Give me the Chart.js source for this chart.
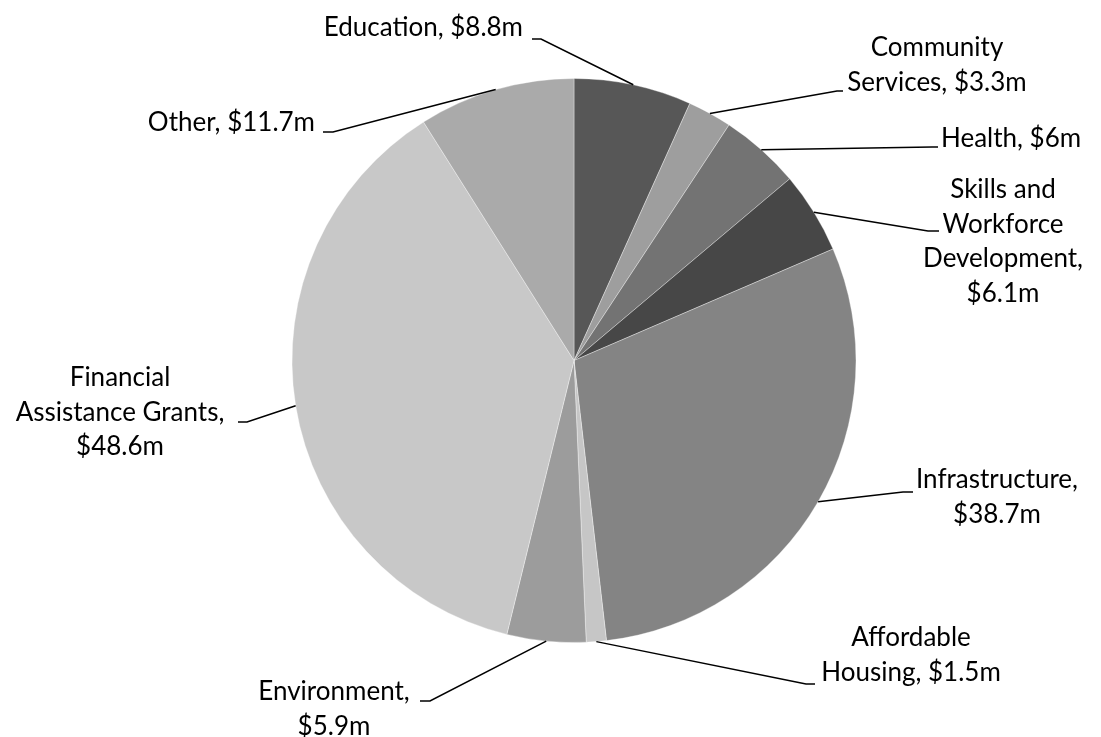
<!DOCTYPE html>
<html>
<head>
<meta charset="utf-8">
<script src="https://cdn.jsdelivr.net/npm/chart.js@4.4.1/dist/chart.umd.min.js"></script>
<style>
    html, body { margin: 0; padding: 0; background: #fff; }
    #wrap { width: 1101px; height: 737px; }
</style>
</head>
<body>
<div id="wrap"><canvas id="pieChart" width="1101" height="737"></canvas></div>
<script>
// Data (values in $m)
const categories = ['Education', 'Community Services', 'Health', 'Skills and Workforce Development',
    'Infrastructure', 'Affordable Housing', 'Environment', 'Financial Assistance Grants', 'Other'];
const values = [8.8, 3.3, 6, 6.1, 38.7, 1.5, 5.9, 48.6, 11.7];
// words per label line
const lineBreaks = [[2], [1, 2], [2], [2, 1, 1, 1], [1, 1], [1, 2], [1, 1], [1, 2, 1], [2]];

const sliceColors = ['#575757', '#9e9e9e', '#737373', '#474747', '#848484', '#c6c6c6', '#9c9c9c', '#c8c8c8', '#aaaaaa'];

// label placement: text position + elbow [x near pie, x near text, y]
const labelLayout = [
    { x: 523, y: 28, align: 'right', elbow: [541, 532, 39] },
    { x: 937, y: 48, align: 'center', elbow: [837, 843, 91] },
    { x: 941, y: 139, align: 'left', elbow: [932, 938, 147] },
    { x: 1003, y: 190, align: 'center', elbow: [928, 939, 231] },
    { x: 997, y: 480, align: 'center', elbow: [903, 913, 492] },
    { x: 911, y: 638, align: 'center', elbow: [806, 815, 684] },
    { x: 334, y: 692, align: 'center', elbow: [430, 420, 701] },
    { x: 120, y: 378, align: 'center', elbow: [247, 238, 422] },
    { x: 315, y: 123, align: 'right', elbow: [333, 323, 132] }
];
const LINE_H = 34.5;

const buildLines = (i) => {
    const words = (categories[i] + ', $' + values[i] + 'm').split(' ');
    const out = [];
    let k = 0;
    lineBreaks[i].forEach(n => {
        out.push(words.slice(k, k + n).join(' '));
        k += n;
    });
    return out;
};

// Leader lines + labels
const leaderLabels = {
    id: 'leaderLabels',
    afterDraw(chart) {
        const ctx = chart.ctx;
        const arcs = chart.getDatasetMeta(0).data;
        ctx.save();
        arcs.forEach((arc, i) => {
            const p = arc.getProps(['x', 'y', 'startAngle', 'endAngle', 'outerRadius'], true);
            const mid = (p.startAngle + p.endAngle) / 2;
            const ax = p.x + Math.cos(mid) * p.outerRadius;
            const ay = p.y + Math.sin(mid) * p.outerRadius;
            const L = labelLayout[i];

            ctx.strokeStyle = '#000';
            ctx.lineWidth = 1.5;
            ctx.beginPath();
            ctx.moveTo(ax, ay);
            ctx.lineTo(L.elbow[0], L.elbow[2]);
            ctx.lineTo(L.elbow[1], L.elbow[2]);
            ctx.stroke();

            ctx.fillStyle = '#000';
            ctx.font = '26px Lato';
            ctx.textAlign = L.align;
            ctx.textBaseline = 'middle';
            buildLines(i).forEach((t, j) => ctx.fillText(t, L.x, L.y + j * LINE_H));
        });
        ctx.restore();
    }
};

new Chart(document.getElementById('pieChart'), {
    type: 'pie',
    data: {
        labels: categories,
        datasets: [{
            data: values,
            backgroundColor: sliceColors,
            borderColor: 'rgba(255,255,255,0.35)',
            borderWidth: 1
        }]
    },
    options: {
        responsive: false,
        animation: false,
        layout: { padding: { top: 78, bottom: 94, left: 274, right: 227 } },
        plugins: {
            legend: { display: false },
            tooltip: { enabled: false }
        }
    },
    plugins: [leaderLabels]
});
</script>
</body>
</html>
